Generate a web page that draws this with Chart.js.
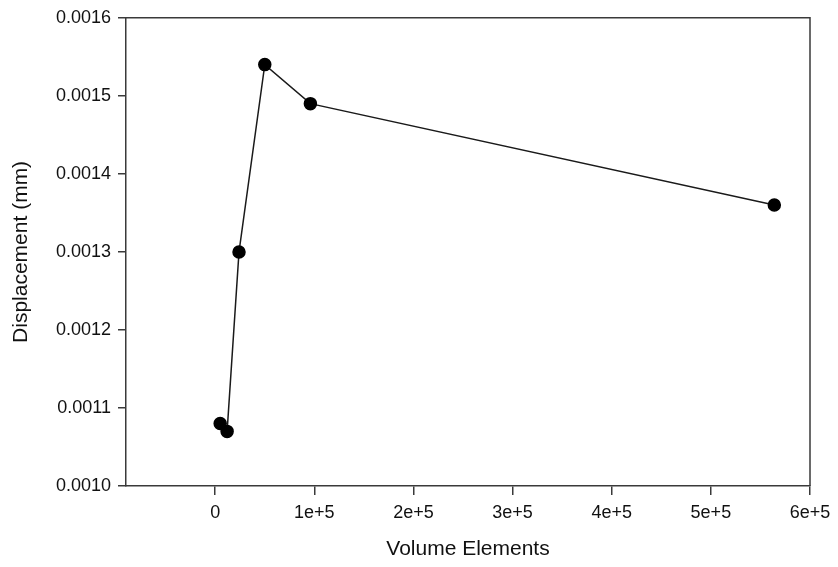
<!DOCTYPE html>
<html>
<head>
<meta charset="utf-8">
<script src="https://cdn.jsdelivr.net/npm/chart.js@4/dist/chart.umd.min.js"></script>
<style>
  html, body { margin: 0; padding: 0; background: #ffffff; }
  #wrap { width: 838px; height: 567px; }
</style>
</head>
<body>
<div id="wrap"><canvas id="c" width="838" height="567"></canvas></div>
<script>
// Data
const volumeElements = [5000, 12000, 24000, 50000, 96000, 564000];
const displacement = [0.00108, 0.00107, 0.00130, 0.00154, 0.00149, 0.00136];

const xTickValues = [0, 100000, 200000, 300000, 400000, 500000, 600000];
const xTickLabels = ['0', '1e+5', '2e+5', '3e+5', '4e+5', '5e+5', '6e+5'];
const yTickValues = [0.0010, 0.0011, 0.0012, 0.0013, 0.0014, 0.0015, 0.0016];
const yTickLabels = ['0.0010', '0.0011', '0.0012', '0.0013', '0.0014', '0.0015', '0.0016'];

const axisColor = '#3a3a3a';
const textColor = '#111111';
const fontFamily = "'Liberation Sans', Arial, sans-serif";

const points = volumeElements.map((v, i) => ({ x: v, y: displacement[i] }));

const framePlugin = {
  id: 'frame',
  afterDraw(chart) {
    const { ctx, chartArea: a } = chart;
    ctx.save();
    ctx.strokeStyle = axisColor;
    ctx.lineWidth = 1.5;
    ctx.beginPath();
    ctx.moveTo(a.left, a.top);
    ctx.lineTo(a.right, a.top);
    ctx.lineTo(a.right, a.bottom);
    ctx.stroke();
    ctx.restore();
  }
};

new Chart(document.getElementById('c'), {
  type: 'scatter',
  data: {
    datasets: [{
      data: points,
      showLine: true,
      borderColor: '#1a1a1a',
      borderWidth: 1.5,
      backgroundColor: '#000000',
      pointBackgroundColor: '#000000',
      pointBorderColor: '#000000',
      pointRadius: 6,
      pointHoverRadius: 6,
      tension: 0
    }]
  },
  options: {
    responsive: false,
    animation: false,
    devicePixelRatio: 1,
    layout: { padding: { top: 17, right: 28, left: 0, bottom: 0 } },
    plugins: {
      legend: { display: false },
      tooltip: { enabled: false }
    },
    scales: {
      x: {
        type: 'linear',
        min: -90000,
        max: 600000,
        afterFit(scale) {
          scale.height = 81;
          scale.paddingLeft = 0;
          scale.paddingRight = 0;
        },
        afterBuildTicks(scale) {
          scale.ticks = xTickValues.map(v => ({ value: v }));
        },
        ticks: {
          autoSkip: false,
          maxRotation: 0,
          padding: 7,
          color: textColor,
          font: { family: fontFamily, size: 18 },
          callback(value) {
            const i = xTickValues.indexOf(value);
            return i >= 0 ? xTickLabels[i] : '';
          }
        },
        grid: {
          drawOnChartArea: false,
          drawTicks: true,
          tickLength: 9,
          tickColor: axisColor,
          lineWidth: 1.5
        },
        border: { display: true, color: axisColor, width: 1.5 },
        title: {
          display: true,
          text: 'Volume Elements',
          color: textColor,
          font: { family: fontFamily, size: 21 },
          padding: { top: 0, bottom: 5 }
        }
      },
      y: {
        type: 'linear',
        min: 0.0010,
        max: 0.0016,
        afterFit(scale) { scale.width = 126; },
        afterBuildTicks(scale) {
          scale.ticks = yTickValues.map(v => ({ value: v }));
        },
        ticks: {
          autoSkip: false,
          padding: 7,
          color: textColor,
          font: { family: fontFamily, size: 18 },
          callback(value) {
            let idx = -1;
            yTickValues.forEach((v, i) => { if (Math.abs(v - value) < 1e-9) idx = i; });
            return idx >= 0 ? yTickLabels[idx] : '';
          }
        },
        grid: {
          drawOnChartArea: false,
          drawTicks: true,
          tickLength: 8,
          tickColor: axisColor,
          lineWidth: 1.5
        },
        border: { display: true, color: axisColor, width: 1.5 },
        title: {
          display: true,
          text: 'Displacement (mm)',
          color: textColor,
          font: { family: fontFamily, size: 21 },
          padding: { top: 9, bottom: 0 }
        }
      }
    }
  },
  plugins: [framePlugin]
});
</script>
</body>
</html>
